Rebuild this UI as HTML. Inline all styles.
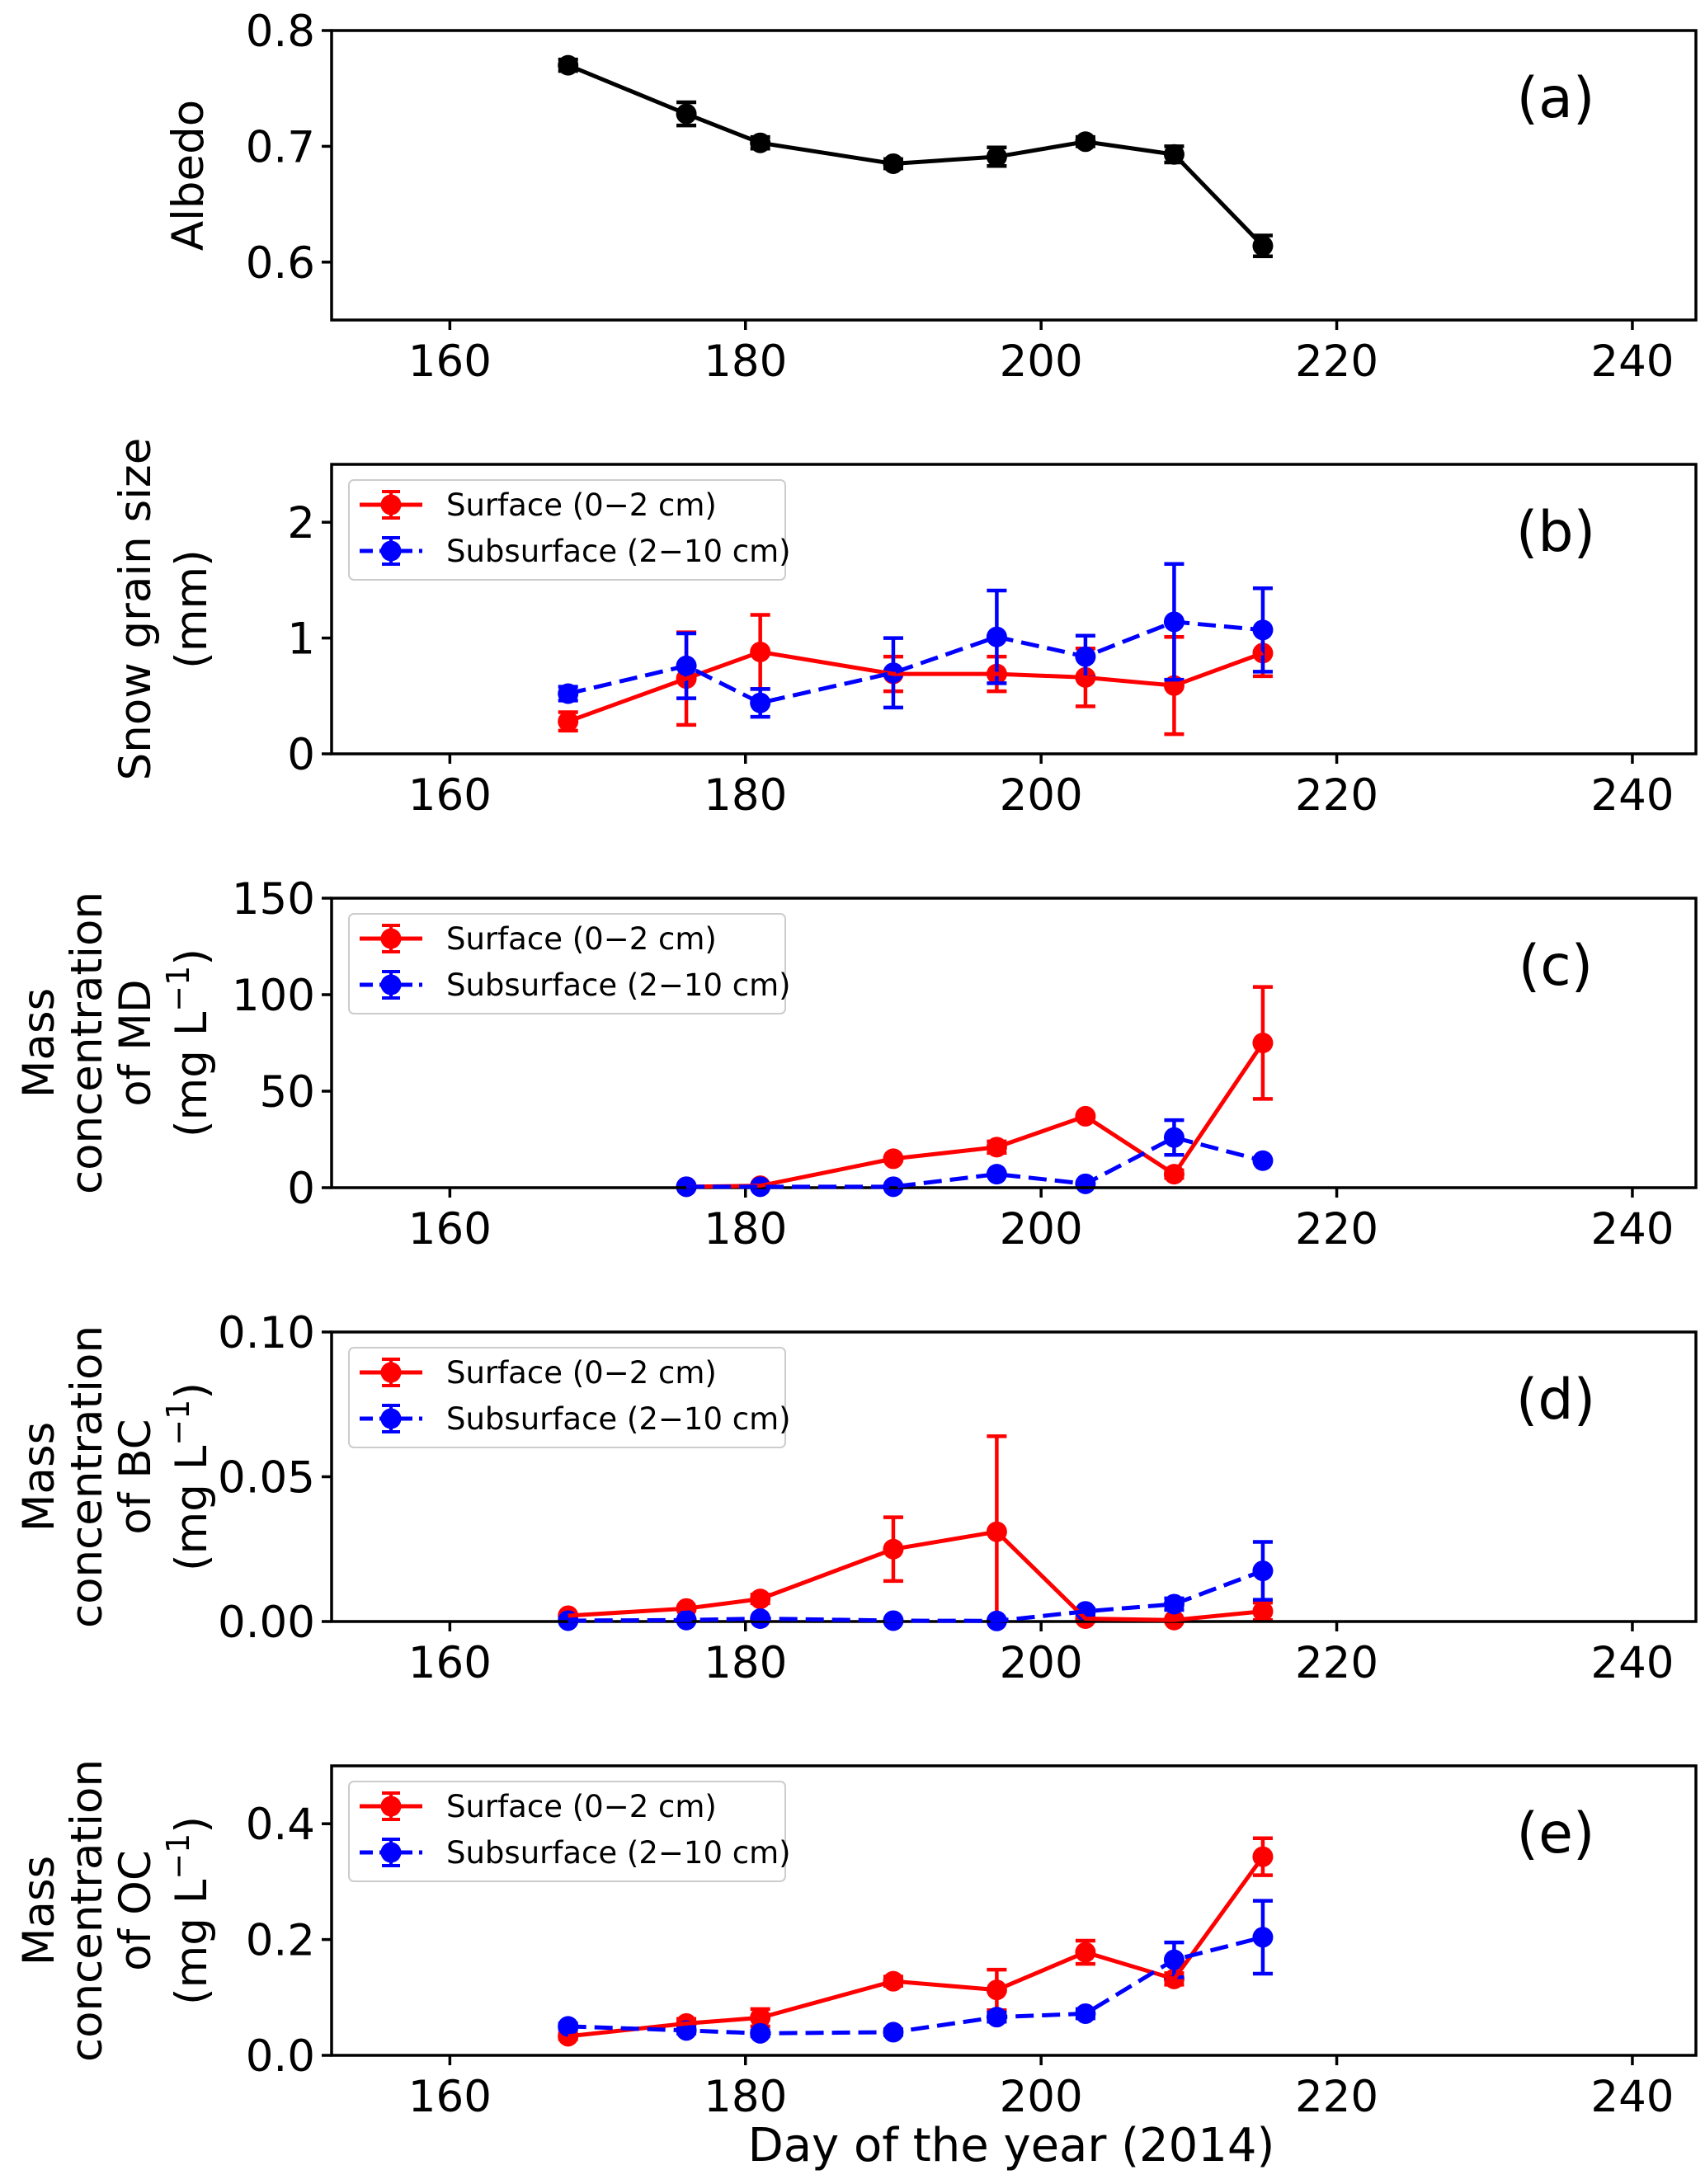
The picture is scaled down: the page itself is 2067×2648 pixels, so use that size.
<!DOCTYPE html>
<html><head><meta charset="utf-8"><style>
html,body{margin:0;padding:0;background:#fff;}
svg{display:block;font-family:"DejaVu Sans","Liberation Sans",sans-serif;}
</style></head>
<body>
<svg id="chart" width="2067" height="2648" viewBox="0 0 2067 2648" xmlns="http://www.w3.org/2000/svg"></svg>
<script>
const days = [168,176,181,190,197,203,209,215];
const xTicks = [160,180,200,220,240];
const albedo = [0.770,0.728,0.703,0.685,0.691,0.704,0.693,0.614];
const albedoErr = [0.005,0.010,0.005,0.004,0.008,0.004,0.007,0.009];
const grainSurf = [0.28,0.65,0.88,0.69,0.69,0.66,0.59,0.87];
const grainSurfErr = [0.08,0.40,0.32,0.15,0.15,0.25,0.42,0.20];
const grainSub = [0.52,0.76,0.44,0.70,1.01,0.84,1.14,1.07];
const grainSubErr = [0.06,0.28,0.12,0.30,0.40,0.18,0.50,0.36];
const mdSurf = [null,0.5,1,15,21,37,7,75];
const mdSurfErr = [0,0,0,0,3,0,2,29];
const mdSub = [null,0.5,0.5,0.5,7,2,26,14];
const mdSubErr = [0,0,0,0,0,0,9,0];
const bcSurf = [0.002,0.0045,0.0078,0.025,0.031,0.001,0.0005,0.0035];
const bcSurfErr = [0,0.0005,0.0015,0.011,0.033,0.001,0,0.003];
const bcSub = [0.0003,0.0005,0.001,0.0003,0.0002,0.0035,0.006,0.0175];
const bcSubErr = [0,0,0,0,0,0.001,0.002,0.01];
const ocSurf = [0.033,0.055,0.065,0.128,0.113,0.178,0.132,0.343];
const ocSurfErr = [0.005,0.008,0.015,0.008,0.035,0.02,0.01,0.032];
const ocSub = [0.050,0.043,0.038,0.040,0.066,0.072,0.165,0.204];
const ocSubErr = [0.005,0.005,0.005,0.005,0.008,0.008,0.03,0.063];

const NS="http://www.w3.org/2000/svg";
const svg=document.getElementById('chart');
function mk(tag,attrs,parent){const e=document.createElementNS(NS,tag);for(const k in attrs)e.setAttribute(k,attrs[k]);(parent||svg).appendChild(e);return e;}
const L=402,R=2056,H=351;
const xmin=152,xmax=244.3;
function xs(v){return L+(v-xmin)/(xmax-xmin)*(R-L);}

const panels=[
 {top:37,ymin:0.55,ymax:0.8,yt:[0.6,0.7,0.8],yl:['0.6','0.7','0.8'],tag:'(a)',ylab:['Albedo'],series:[{v:albedo,e:albedoErr,c:'#000',dash:null,name:'albedo'}],legend:false},
 {top:563,ymin:0,ymax:2.5,yt:[0,1,2],yl:['0','1','2'],tag:'(b)',ylab:['Snow grain size','(mm)'],series:[{v:grainSurf,e:grainSurfErr,c:'#ff0000',dash:null,name:'surface'},{v:grainSub,e:grainSubErr,c:'#0000ff',dash:'22,10',name:'subsurface'}],legend:true},
 {top:1089,ymin:0,ymax:150,yt:[0,50,100,150],yl:['0','50','100','150'],tag:'(c)',ylab:['Mass','concentration','of MD','(mg L−1)'],series:[{v:mdSurf,e:mdSurfErr,c:'#ff0000',dash:null,name:'surface'},{v:mdSub,e:mdSubErr,c:'#0000ff',dash:'22,10',name:'subsurface'}],legend:true},
 {top:1615,ymin:0,ymax:0.1,yt:[0,0.05,0.1],yl:['0.00','0.05','0.10'],tag:'(d)',ylab:['Mass','concentration','of BC','(mg L−1)'],series:[{v:bcSurf,e:bcSurfErr,c:'#ff0000',dash:null,name:'surface'},{v:bcSub,e:bcSubErr,c:'#0000ff',dash:'22,10',name:'subsurface'}],legend:true},
 {top:2141,ymin:0,ymax:0.5,yt:[0,0.2,0.4],yl:['0.0','0.2','0.4'],tag:'(e)',ylab:['Mass','concentration','of OC','(mg L−1)'],series:[{v:ocSurf,e:ocSurfErr,c:'#ff0000',dash:null,name:'surface'},{v:ocSub,e:ocSubErr,c:'#0000ff',dash:'22,10',name:'subsurface'}],legend:true}
];

panels.forEach((p,pi)=>{
 const id='panel-'+'abcde'[pi];
 const g=mk('g',{});
 
 
 const T=p.top,B=p.top+H;
 function ys(v){return B-(v-p.ymin)/(p.ymax-p.ymin)*H;}
 p.series.forEach(s=>{
  const sg=mk('g',{},g);
  
  
  let pts=[];
  days.forEach((d,i)=>{if(s.v[i]!==null)pts.push([xs(d),ys(s.v[i]),i]);});
  const pl=mk('polyline',{points:pts.map(q=>q[0]+','+q[1]).join(' '),fill:'none',stroke:s.c,'stroke-width':5});
  if(s.dash)pl.setAttribute('stroke-dasharray',s.dash);
  
  
  pts.forEach(q=>{
   const i=q[2],er=s.e[i];
   if(er>0){
    const y1=ys(s.v[i]+er),y2=ys(Math.max(p.ymin,s.v[i]-er));
    const eb=mk('path',{d:`M${q[0]},${y1}V${y2}M${q[0]-12},${y1}H${q[0]+12}M${q[0]-12},${y2}H${q[0]+12}`,stroke:s.c,'stroke-width':4.5,fill:'none'},sg);
    
    
   }
   const c=mk('circle',{cx:q[0],cy:q[1],r:12.5,fill:s.c},sg);
   
   
  });
 });
 const fr=mk('rect',{x:L,y:T,width:R-L,height:H,fill:'none',stroke:'#000','stroke-width':3.5},g);
 
 
 xTicks.forEach(t=>{
  const x=xs(t);
  mk('line',{x1:x,y1:B,x2:x,y2:B+12,stroke:'#000','stroke-width':3.5},g);
  const tx=mk('text',{x:x,y:B+68,'font-size':53,'text-anchor':'middle',fill:'#000'},g);
  tx.textContent=t;
  
  
 });
 p.yt.forEach((t,i)=>{
  const y=ys(t);
  mk('line',{x1:L-12,y1:y,x2:L,y2:y,stroke:'#000','stroke-width':3.5},g);
  const tx=mk('text',{x:L-20,y:y+19,'font-size':53,'text-anchor':'end',fill:'#000'},g);
  tx.textContent=p.yl[i];
  
  
 });
 const tg=mk('text',{x:1886,y:T+105,'font-size':68,'text-anchor':'middle',fill:'#000'},g);
 tg.textContent=p.tag;
 
 
 const xsCols=p.ylab.length===1?[228]:p.ylab.length===2?[164,232]:[47,105,164,232];
 p.ylab.forEach((s,i)=>{
  const cx=xsCols[i]+18,cy=T+H/2;
  const tx=mk('text',{x:cx,y:cy,'font-size':53,'text-anchor':'middle',fill:'#000',transform:`rotate(-90 ${cx} ${cy})`},g);
  if(s.indexOf('−1')>=0){
   tx.textContent='(mg L';
   const sp=mk('tspan',{dy:-21,'font-size':38},tx);sp.textContent='−1';
   const sp2=mk('tspan',{dy:21},tx);sp2.textContent=')';
  } else tx.textContent=s;
  
  
 });
 if(p.legend){
  const lg=mk('g',{},g);
  
  
  const ly=T+19;
  mk('rect',{x:423,y:ly,width:529,height:121,rx:6,fill:'#fff',stroke:'#ccc','stroke-width':2},lg);
  [['Surface (0−2 cm)','#ff0000',null],['Subsurface (2−10 cm)','#0000ff','16,8']].forEach((e,i)=>{
   const yy=ly+30+i*56;
   const eg=mk('g',{},lg);
   
   
   const ln=mk('line',{x1:436,y1:yy,x2:512,y2:yy,stroke:e[1],'stroke-width':5},eg);
   if(e[2])ln.setAttribute('stroke-dasharray',e[2]);
   mk('path',{d:`M474,${yy-16}V${yy+16}M463,${yy-16}H485M463,${yy+16}H485`,stroke:e[1],'stroke-width':4,fill:'none'},eg);
   mk('circle',{cx:474,cy:yy,r:12.5,fill:e[1]},eg);
   const t=mk('text',{x:541,y:yy+13,'font-size':37,fill:'#000'},eg);
   t.textContent=e[0];
  });
 }
});
const xl=mk('text',{x:1226,y:2620,'font-size':56,'text-anchor':'middle',fill:'#000'});
xl.textContent='Day of the year (2014)';


</script>
</body></html>
